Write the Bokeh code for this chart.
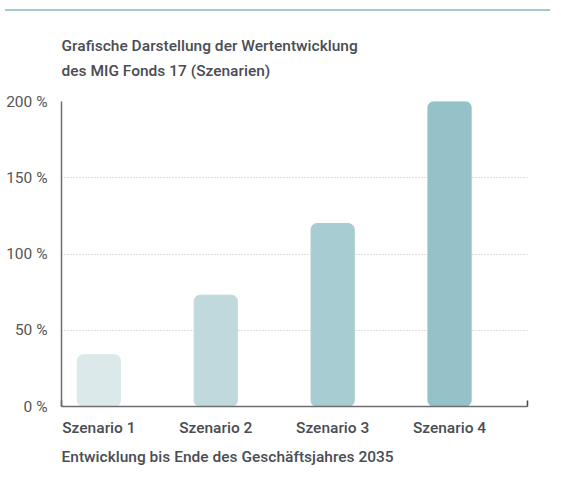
from bokeh.plotting import figure
from bokeh.models import Range1d, FixedTicker, PrintfTickFormatter, Title, Div, ColumnDataSource
from bokeh.layouts import column
from bokeh.embed import file_html
from bokeh.resources import INLINE

categories = ["Szenario 1", "Szenario 2", "Szenario 3", "Szenario 4"]
values = [34, 73, 120, 200]
colors = ["#dce9ea", "#bfd9dd", "#a7cdd2", "#94c2c8"]
y_ticks = [0, 50, 100, 150, 200]
title_lines = ["Grafische Darstellung der Wertentwicklung", "des MIG Fonds 17 (Szenarien)"]
x_title = "Entwicklung bis Ende des Geschäftsjahres 2035"

FONT = "Roboto"
FONT_M = "Roboto Medium"
TXT = "#4a4e54"
FS = "15.5px"

pos = list(range(len(categories)))
src = ColumnDataSource(dict(x=pos, top=values, color=colors))

x_start, x_end = -0.32, len(categories) - 1 + 0.667

p = figure(width=545, height=456, output_backend="svg", toolbar_location=None,
           x_range=Range1d(x_start, x_end), y_range=Range1d(0, 200),
           min_border_left=61, min_border_right=18, min_border_top=85, min_border_bottom=64)
p.outline_line_color = None
p.background_fill_color = "white"
p.border_fill_color = "white"

p.vbar(x="x", top="top", bottom=0, width=0.37, color="color", source=src, border_radius=6)

# y axis
p.yaxis.ticker = FixedTicker(ticks=y_ticks)
p.yaxis.formatter = PrintfTickFormatter(format="%d %%")
p.yaxis.major_tick_line_color = None
p.yaxis.minor_tick_line_color = None
p.yaxis.axis_line_color = "#6e6e6e"
p.yaxis.axis_line_width = 1.5
p.yaxis.major_label_text_font = FONT
p.yaxis.major_label_text_font_size = "15.5px"
p.yaxis.major_label_text_color = "#555555"
p.yaxis.major_label_standoff = 8

# x axis
p.xaxis.ticker = FixedTicker(ticks=pos, minor_ticks=[x_start, x_end])
p.xaxis.major_label_overrides = {v: c for v, c in zip(pos, categories)}
p.xaxis.major_tick_line_color = None
p.xaxis.minor_tick_in = 6
p.xaxis.minor_tick_out = 0
p.xaxis.minor_tick_line_color = "#444444"
p.xaxis.minor_tick_line_width = 1.5
p.xaxis.axis_line_color = "#6e6e6e"
p.xaxis.axis_line_width = 1.5
p.xaxis.major_label_text_font = FONT_M
p.xaxis.major_label_text_font_size = FS
p.xaxis.major_label_text_color = TXT
p.xaxis.major_label_standoff = 6

p.xgrid.grid_line_color = None
p.ygrid.ticker = FixedTicker(ticks=y_ticks)
p.ygrid.grid_line_color = "#bdbdbd"
p.ygrid.grid_line_dash = "1 2"
p.ygrid.grid_line_width = 1

# trailing empty line acts as spacer between title and plot area
p.title.text = "\n".join(title_lines) + "\n"
p.title.text_font = FONT_M
p.title.text_font_size = FS
p.title.text_font_style = "normal"
p.title.text_color = TXT
p.title.text_line_height = 1.42
p.title.align = "left"
p.title.offset = 0
p.title.standoff = -9

p.add_layout(Title(text=x_title, text_font=FONT_M, text_font_size=FS, text_font_style="normal",
                   text_color=TXT, align="left", offset=0, standoff=13), "below")

div = Div(text="", width=545, height=6, styles={"border-bottom": "2px solid #a3c9ce"})

layout = column(div, p, spacing=0)
open("out.html", "w").write(file_html(layout, INLINE))
